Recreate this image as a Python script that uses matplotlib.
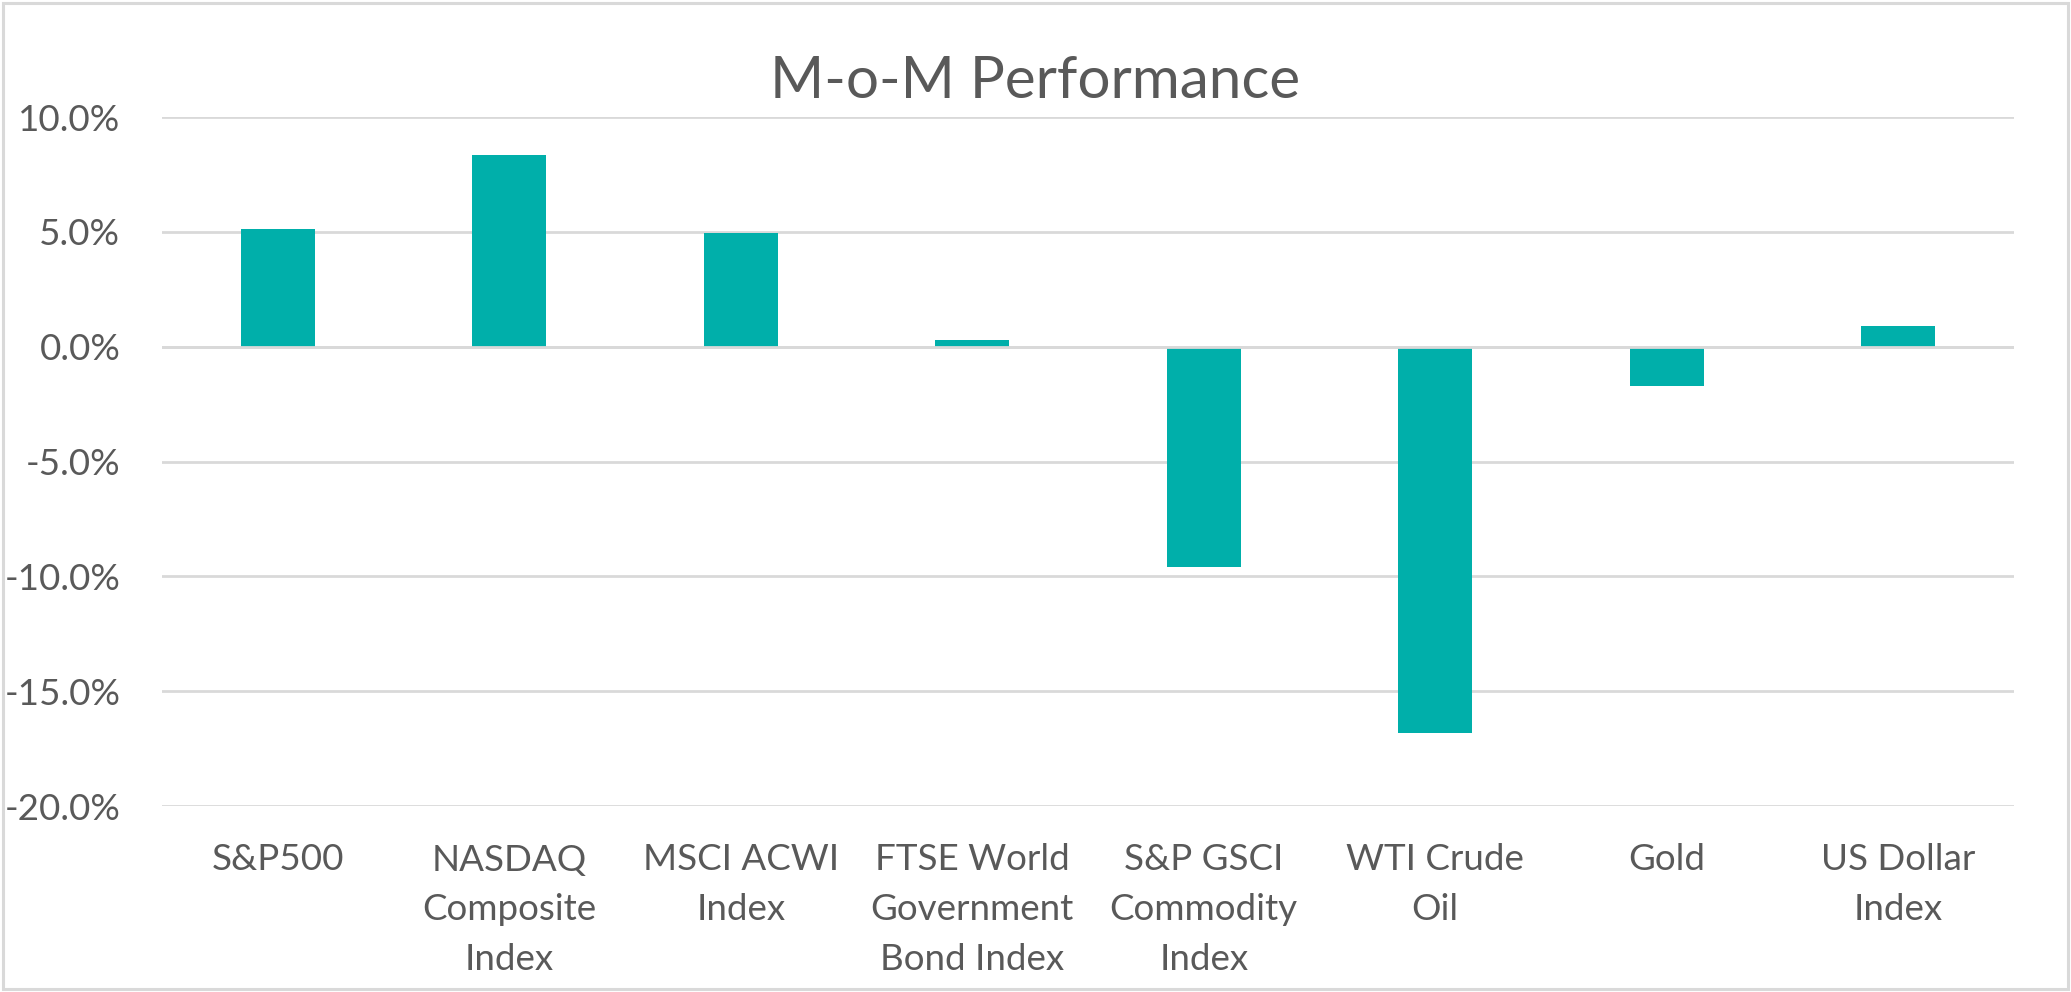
import matplotlib
matplotlib.use("Agg")
import matplotlib.pyplot as plt
from matplotlib.ticker import FuncFormatter, MultipleLocator

categories = ["S&P500", "NASDAQ\nComposite\nIndex", "MSCI ACWI\nIndex",
              "FTSE World\nGovernment\nBond Index", "S&P GSCI\nCommodity\nIndex",
              "WTI Crude\nOil", "Gold", "US Dollar\nIndex"]
values = [5.12, 8.33, 4.94, 0.30, -9.6, -16.82, -1.70, 0.89]
title = "M-o-M Performance"

plt.rcParams['font.family'] = ['Lato', 'DejaVu Sans']
text_color = '#595959'
grid_color = '#D9D9D9'
bar_color = '#00AFAA'

fig = plt.figure(figsize=(20.71, 9.92), dpi=100)
ax = fig.add_axes([0.0782, 0.1875, 0.9725 - 0.0782, 0.882 - 0.1875])

x = range(len(categories))
ax.bar(x, values, width=0.32, color=bar_color, zorder=2)
ax.set_xlim(-0.5, len(categories) - 0.5)
ax.set_ylim(-20, 10)
ax.yaxis.set_major_locator(MultipleLocator(5))
ax.yaxis.set_major_formatter(FuncFormatter(lambda v, p: f"{v:.1f}%"))
ax.grid(axis='y', color=grid_color, linewidth=2.0, zorder=0)
ax.axhline(0, color=grid_color, linewidth=2.0, zorder=3)
ax.set_axisbelow(True)
for s in ax.spines.values():
    s.set_visible(False)
ax.set_xticks(list(x))
ax.set_xticklabels(categories)
for lbl in ax.get_xticklabels():
    lbl.set_linespacing(1.62)
ax.tick_params(axis='both', length=0, colors=text_color, labelsize=26.5)
ax.tick_params(axis='y', pad=30)
ax.tick_params(axis='x', pad=27)

fig.text(0.5, 0.918, title, ha='center', va='center', fontsize=42, color=text_color)

# chart-area border
border = plt.Rectangle((0.0015, 0.003), 0.997, 0.994, transform=fig.transFigure,
                       fill=False, edgecolor=grid_color, linewidth=2.2)
fig.patches.append(border)

fig.savefig("out.png", dpi=100, facecolor='white')
